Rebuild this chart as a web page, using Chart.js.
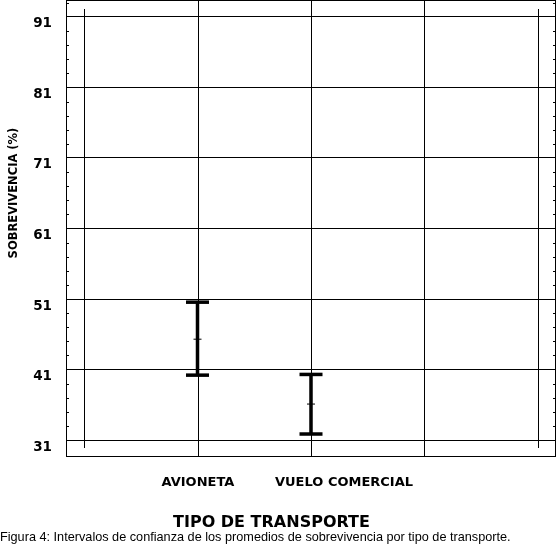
<!DOCTYPE html>
<html><head><meta charset="utf-8">
<script src="https://cdn.jsdelivr.net/npm/chart.js@4/dist/chart.umd.min.js"></script>
<style>html,body{margin:0;padding:0;background:#fff}#wrap{width:557px;height:545px}</style>
</head><body><div id="wrap"><canvas id="c" width="557" height="545"></canvas></div>
<script>
// ---- data ----
const categories = ['AVIONETA', 'VUELO COMERCIAL'];
const categoryPositions = [1, 2];
const means = [45.3, 36.1];
const lowerLimits = [40.2, 31.85];
const upperLimits = [50.55, 40.3];
const yTickValues = [31, 41, 51, 61, 71, 81, 91];
const xGridValues = [0, 1, 2, 3, 4];
const yAxisTitle = 'SOBREVIVENCIA (%)';
const xAxisTitle = 'TIPO DE TRANSPORTE';
const caption = 'Figura 4: Intervalos de confianza de los promedios de sobrevivencia por tipo de transporte.';

const BOLD = '"DejaVu Sans", sans-serif';

function zeroPad(s) { s.paddingTop = 0; s.paddingBottom = 0; s.paddingLeft = 0; s.paddingRight = 0; }

const decor = {
  id: 'decor',
  beforeDatasetsDraw(chart) {
    const {ctx, chartArea: a, scales: {x, y}} = chart;
    ctx.save();
    ctx.strokeStyle = '#000';
    ctx.lineWidth = 1;
    xGridValues.forEach((v, i) => {
      const px = Math.round(x.getPixelForValue(v)) + 0.5;
      const outer = i === 0 || i === xGridValues.length - 1;
      ctx.beginPath();
      ctx.moveTo(px, outer ? a.top + 9 : a.top);
      ctx.lineTo(px, outer ? a.bottom - 9 : a.bottom);
      ctx.stroke();
    });
    for (let v = yTickValues[0]; v <= y.max; v += 2) {
      if (yTickValues.includes(v)) continue;
      const py = Math.round(y.getPixelForValue(v)) + 0.5;
      ctx.beginPath();
      ctx.moveTo(a.left, py); ctx.lineTo(a.left + 3, py);
      ctx.moveTo(a.right - 3, py); ctx.lineTo(a.right, py);
      ctx.stroke();
    }
    ctx.strokeRect(a.left + 0.5, a.top + 0.5, a.right - a.left - 1, a.bottom - a.top - 1);
    ctx.restore();
  },
  afterDatasetsDraw(chart) {
    const {ctx, scales: {x, y}} = chart;
    ctx.save();
    ctx.fillStyle = '#000';
    categoryPositions.forEach((pos, i) => {
      const px = x.getPixelForValue(pos);
      const yt = y.getPixelForValue(upperLimits[i]);
      const yb = y.getPixelForValue(lowerLimits[i]);
      ctx.fillRect(px - 1.75, yt, 3.5, yb - yt);
      ctx.fillRect(px - 11.5, yt - 1.75, 23, 3.5);
      ctx.fillRect(px - 11.5, yb - 1.75, 23, 3.5);
    });
    ctx.restore();
  },
  afterDraw(chart) {
    const {ctx, scales: {x}} = chart;
    ctx.save();
    ctx.fillStyle = '#000';
    ctx.textBaseline = 'alphabetic';
    ctx.font = 'bold 13px ' + BOLD;
    ctx.textAlign = 'left';
    categories.forEach((c, i) => {
      ctx.fillText(c, x.getPixelForValue(categoryPositions[i]) - 36, 486);
    });
    ctx.font = 'bold 16px ' + BOLD;
    ctx.textAlign = 'center';
    ctx.fillText(xAxisTitle, 271.5, 527);
    ctx.save();
    ctx.translate(17, 193);
    ctx.rotate(-Math.PI / 2);
    ctx.font = 'bold 11.5px ' + BOLD;
    ctx.textAlign = 'center';
    ctx.fillText(yAxisTitle, 0, 0);
    ctx.restore();
    ctx.font = '12.7px "Liberation Sans", Arial, sans-serif';
    ctx.textAlign = 'left';
    ctx.fillText(caption, 0, 541);
    ctx.restore();
  }
};

new Chart(document.getElementById('c'), {
  type: 'scatter',
  data: {
    datasets: [{
      data: categoryPositions.map((p, i) => ({x: p, y: means[i]})),
      pointStyle: 'line',
      pointRadius: 4,
      borderColor: '#000',
      backgroundColor: '#000',
      borderWidth: 1
    }]
  },
  options: {
    responsive: false,
    devicePixelRatio: 1,
    animation: false,
    layout: {autoPadding: false, padding: {top: 0, right: 1, bottom: 0, left: 0}},
    plugins: {legend: {display: false}, tooltip: {enabled: false}},
    scales: {
      x: {
        type: 'linear', min: -0.1586, max: 4.1586,
        ticks: {display: false},
        grid: {display: false},
        border: {display: false},
        afterFit: s => { s.height = 88; zeroPad(s); }
      },
      y: {
        type: 'linear', min: 28.59, max: 93.41,
        afterBuildTicks: s => { s.ticks = yTickValues.map(v => ({value: v})); },
        ticks: {color: '#000', font: {family: BOLD, size: 13.5, weight: 'bold'}, padding: 14, labelOffset: 7},
        grid: {color: '#000', lineWidth: 1, drawTicks: false},
        border: {display: false},
        afterFit: s => { s.width = 66; zeroPad(s); }
      }
    }
  },
  plugins: [decor]
});
</script>
</body></html>
